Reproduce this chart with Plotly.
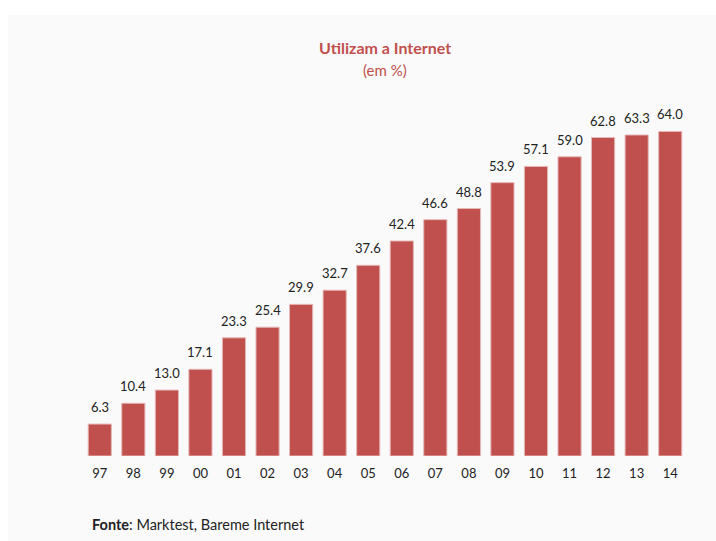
import plotly.graph_objects as go

years = ["97", "98", "99", "00", "01", "02", "03", "04", "05", "06", "07", "08", "09", "10", "11", "12", "13", "14"]
values = [6.3, 10.4, 13.0, 17.1, 23.3, 25.4, 29.9, 32.7, 37.6, 42.4, 46.6, 48.8, 53.9, 57.1, 59.0, 62.8, 63.3, 64.0]
labels = [f"{v:.1f}" for v in values]

RED = "#c0504d"
FONT = "Lato, 'Open Sans', sans-serif"

fig = go.Figure(go.Bar(
    x=years, y=values,
    marker=dict(color=RED, line=dict(color="#e6b8b7", width=1)),
    hoverinfo="x+y",
))

# category index positions (avoid "00"/"01" being read as numbers)
value_annotations = [
    dict(x=i, y=v, text=lab, xref="x", yref="y", showarrow=False,
         yanchor="bottom", yshift=7,
         font=dict(size=13, color="#222222", family=FONT))
    for i, (v, lab) in enumerate(zip(values, labels))
]

fig.update_layout(
    width=716, height=541,
    margin=dict(l=83, r=29, t=101, b=85),
    paper_bgcolor="white", plot_bgcolor="rgba(0,0,0,0)",
    bargap=0.31,
    showlegend=False,
    font=dict(family=FONT, color="#222222"),
    xaxis=dict(type="category", range=[-0.5, 17.5], showgrid=False, zeroline=False,
               showline=False, ticks="outside", ticklen=5, tickcolor="rgba(0,0,0,0)",
               tickfont=dict(size=13, color="#222222", family=FONT)),
    yaxis=dict(range=[0, 70], visible=False),
    shapes=[dict(type="rect", xref="paper", yref="paper", layer="below",
                 x0=-(83 - 8) / 604, x1=1 + 29 / 604, y0=-85 / 355, y1=1 + (101 - 15) / 355,
                 fillcolor="#fafafa", line=dict(width=0))],
    annotations=value_annotations + [
        dict(text="<b>Utilizam a Internet</b>", xref="paper", yref="paper", x=0.5, y=1.152,
             showarrow=False, font=dict(size=16, color=RED, family=FONT), yanchor="middle"),
        dict(text="(em %)", xref="paper", yref="paper", x=0.5, y=1.087,
             showarrow=False, font=dict(size=15, color=RED, family=FONT), yanchor="middle"),
        dict(text="<b>Fonte</b>: Marktest, Bareme Internet", xref="paper", yref="paper",
             x=0.011, y=-0.194, xanchor="left", yanchor="middle", showarrow=False,
             font=dict(size=14.5, color="#222222", family=FONT)),
    ],
)

fig.write_html("out.html")
